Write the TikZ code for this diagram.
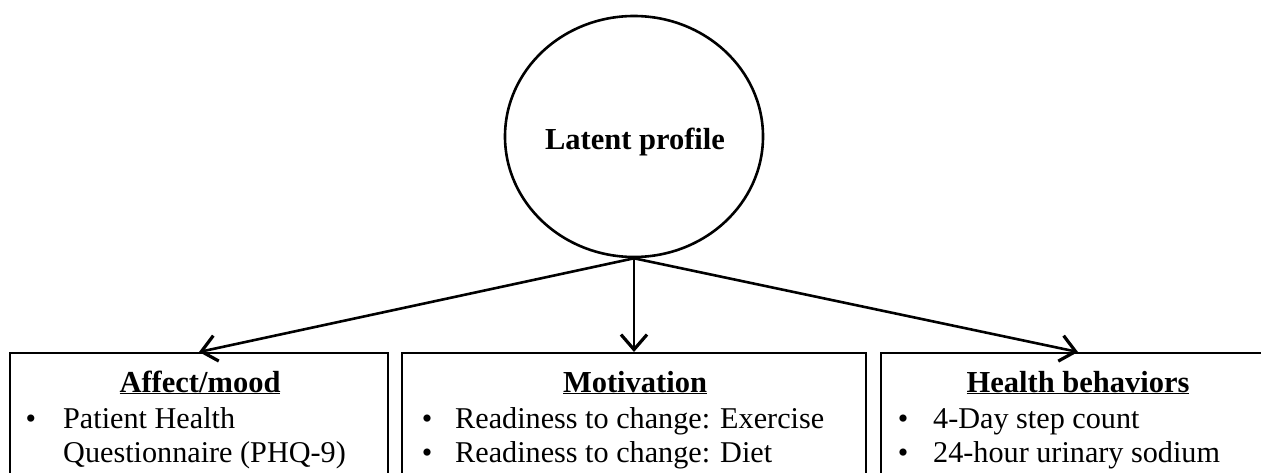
\documentclass[tikz,border=0pt]{standalone}
\usepackage{fontspec}
\setmainfont{Liberation Serif}
\usetikzlibrary{arrows.meta,shapes.geometric}
\tikzset{
  boxnode/.style={draw, line width=2pt, rectangle, minimum height=170pt, inner sep=0pt, anchor=north},
  latent/.style={draw, line width=2.6pt, ellipse, minimum width=258pt, minimum height=241pt, inner sep=0pt},
  conn/.style={line width=2.6pt, -{Straight Barb[length=15pt,width=26pt,line width=3.2pt]}},
  txt/.style={font=\fontsize{30.2}{35}\selectfont, inner sep=0pt, anchor=base west},
  head/.style={font=\fontsize{30.5}{35}\selectfont\bfseries, inner sep=0pt, anchor=base},
  bul/.style={font=\fontsize{30}{35}\selectfont, inner sep=0pt, anchor=base}
}
\begin{document}
\begin{tikzpicture}[x=1pt,y=-1pt]
\useasboundingbox (0,0) rectangle (1261,473);
\clip (0,0) rectangle (1261,473);
\node[latent] (lp) at (634,136.5) {};
\node[head] (lpt) at (635,150) {Latent profile};
\node[boxnode, minimum width=378pt] (b1) at (199,352) {};
\node[boxnode, minimum width=464pt] (b2) at (634,352) {};
\node[boxnode, minimum width=394pt] (b3) at (1078,352) {};
\draw[conn] (lp.south) -- (b1.north);
\draw[conn] (lp.south) -- (b2.north);
\draw[conn] (lp.south) -- (b3.north);
% box 1
\node[head] (h1) at (200,392) {\underline{Affect/mood}};
\node[bul] (u1a) at (31,428) {•};
\node[txt] (t1a) at (63,428) {Patient Health};
\node[txt] (t1b) at (63,462) {Questionnaire (PHQ-9)};
% box 2
\node[head] (h2) at (635,392) {\underline{Motivation}};
\node[bul] (u2a) at (427,428) {•};
\node[txt] (t2a) at (455,428) {Readiness to change: Exercise};
\node[bul] (u2b) at (427,462) {•};
\node[txt] (t2b) at (455,462) {Readiness to change: Diet};
% box 3
\node[head] (h3) at (1078,392) {\underline{Health behaviors}};
\node[bul] (u3a) at (903,428) {•};
\node[txt] (t3a) at (933,428) {4-Day step count};
\node[bul] (u3b) at (903,462) {•};
\node[txt] (t3b) at (933,462) {24-hour urinary sodium};
\end{tikzpicture}
\end{document}
